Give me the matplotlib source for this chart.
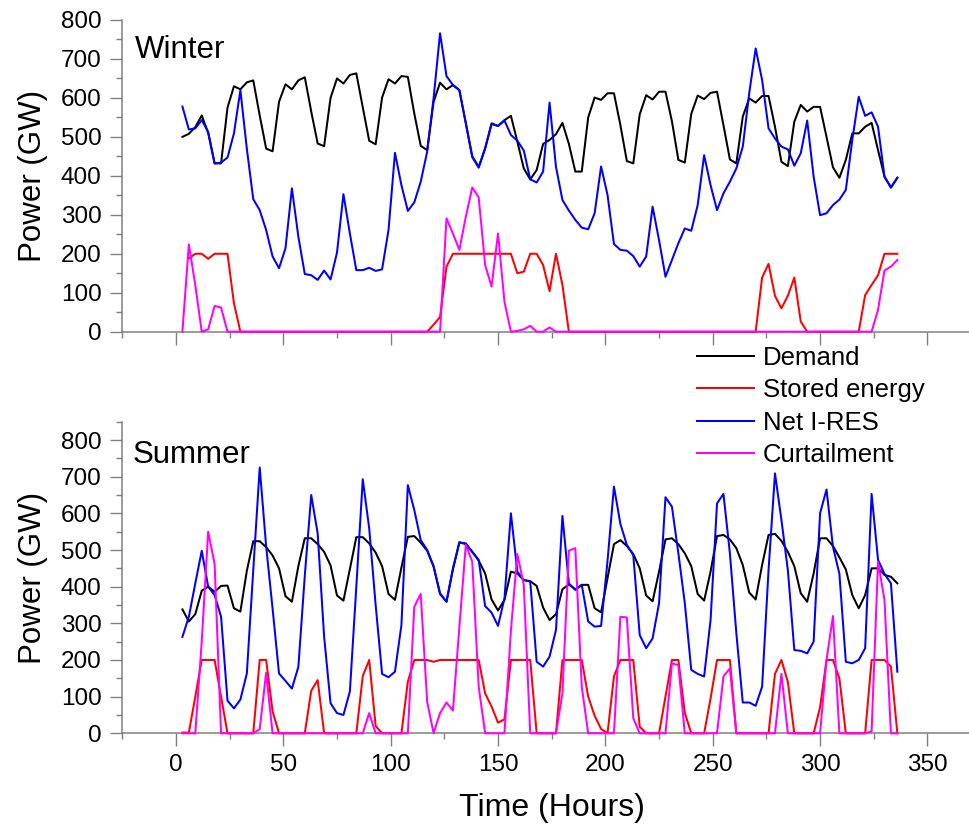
import numpy as np
import matplotlib
matplotlib.use("Agg")
import matplotlib.pyplot as plt
from matplotlib.ticker import MultipleLocator

plt.rcParams['font.family'] = ['Liberation Sans', 'DejaVu Sans']

hours = list(range(3, 337, 3))

labels = ["Demand", "Stored energy", "Net I-RES", "Curtailment"]
colors = ["#000000", "#FF0000", "#0000FF", "#FF00FF"]

winter_demand = [
    500, 508, 525, 555, 510, 432, 432, 575,
    630, 622, 640, 645, 555, 470, 463, 590,
    635, 622, 645, 653, 565, 483, 476, 600,
    650, 637, 659, 663, 576, 490, 481, 601,
    648, 637, 656, 654, 560, 477, 466, 590,
    639, 622, 633, 620, 535, 450, 423, 470,
    533, 528, 543, 554, 488, 419, 391, 415,
    482, 492, 507, 536, 482, 411, 411, 550,
    601, 595, 612, 612, 530, 438, 432, 558,
    607, 596, 616, 616, 540, 441, 434, 559,
    606, 597, 613, 616, 530, 442, 432, 552,
    599, 588, 605, 605, 526, 436, 425, 539,
    582, 565, 577, 577, 500, 422, 395, 441,
    509, 509, 526, 536, 466, 398, 370, 395]
winter_net = [
    578, 519, 522, 543, 513, 432, 434, 447,
    509, 620, 470, 340, 312, 261, 193, 163,
    214, 368, 244, 148, 145, 133, 157, 134,
    203, 353, 252, 158, 158, 164, 156, 160,
    261, 459, 376, 310, 332, 385, 462, 600,
    766, 656, 633, 620, 535, 448, 421, 471,
    535, 528, 542, 505, 490, 465, 391, 383,
    411, 588, 423, 338, 311, 287, 267, 263,
    304, 424, 351, 225, 210, 208, 194, 167,
    193, 321, 235, 141, 184, 227, 265, 259,
    325, 453, 376, 312, 355, 385, 419, 475,
    612, 727, 646, 522, 496, 475, 468, 426,
    458, 542, 398, 299, 304, 325, 339, 364,
    492, 603, 554, 563, 526, 398, 370, 395]
winter_stored = [
    np.nan, 188, 200, 200, 187, 200, 200, 200,
    73, 0, 0, 0, 0, 0, 0, 0,
    0, 0, 0, 0, 0, 0, 0, 0,
    0, 0, 0, 0, 0, 0, 0, 0,
    0, 0, 0, 0, 0, 0, 0, 18,
    38, 167, 200, 200, 200, 200, 200, 200,
    200, 200, 200, 200, 150, 154, 200, 200,
    171, 104, 200, 120, 0, 0, 0, 0,
    0, 0, 0, 0, 0, 0, 0, 0,
    0, 0, 0, 0, 0, 0, 0, 0,
    0, 0, 0, 0, 0, 0, 0, 0,
    0, 0, 139, 174, 92, 60, 92, 139,
    26, 0, 0, 0, 0, 0, 0, 0,
    0, 0, 94, 120, 145, 200, 200, 200]
winter_curt = [
    0, 224, 120, 0, 6, 66, 62, 0,
    0, 0, 0, 0, 0, 0, 0, 0,
    0, 0, 0, 0, 0, 0, 0, 0,
    0, 0, 0, 0, 0, 0, 0, 0,
    0, 0, 0, 0, 0, 0, 0, 0,
    0, 291, 252, 210, 295, 370, 345, 171,
    116, 252, 77, 0, 2, 6, 15, 0,
    0, 11, 0, 0, 0, 0, 0, 0,
    0, 0, 0, 0, 0, 0, 0, 0,
    0, 0, 0, 0, 0, 0, 0, 0,
    0, 0, 0, 0, 0, 0, 0, 0,
    0, 0, 0, 0, 0, 0, 0, 0,
    0, 0, 0, 0, 0, 0, 0, 0,
    0, 0, 0, 0, 56, 157, 167, 184]

summer_demand = [
    338, 305, 325, 389, 400, 386, 402, 403,
    341, 332, 443, 524, 524, 508, 485, 450,
    374, 359, 456, 532, 532, 516, 495, 458,
    376, 362, 448, 535, 535, 518, 493, 456,
    380, 364, 452, 536, 538, 520, 498, 455,
    380, 359, 447, 521, 516, 495, 471, 436,
    365, 335, 364, 441, 436, 418, 415, 402,
    343, 309, 325, 393, 406, 393, 405, 405,
    341, 330, 423, 516, 527, 511, 489, 450,
    376, 360, 441, 529, 532, 516, 491, 456,
    380, 362, 441, 538, 541, 529, 505, 459,
    384, 365, 459, 541, 544, 525, 495, 456,
    382, 359, 436, 532, 532, 511, 480, 447,
    377, 341, 377, 450, 450, 432, 427, 409]
summer_net = [
    263, 318, 409, 498, 400, 377, 318, 89,
    68, 92, 163, 445, 725, 510, 340, 163,
    143, 122, 181, 430, 650, 545, 264, 82,
    55, 50, 114, 400, 693, 559, 350, 162,
    153, 168, 295, 677, 609, 527, 500, 455,
    382, 359, 450, 521, 518, 495, 473, 347,
    329, 293, 368, 600, 441, 418, 414, 195,
    182, 209, 282, 593, 409, 391, 405, 305,
    291, 293, 470, 673, 571, 514, 486, 268,
    232, 259, 355, 644, 618, 491, 355, 173,
    162, 155, 309, 627, 653, 491, 273, 84,
    84, 75, 127, 445, 709, 582, 445, 227,
    225, 218, 250, 600, 665, 509, 435, 195,
    191, 200, 232, 653, 473, 435, 409, 168]
summer_stored = [
    2, 2, 100, 200, 200, 200, 100, 0,
    0, 0, 0, 0, 200, 200, 60, 0,
    0, 0, 0, 0, 116, 145, 0, 0,
    0, 0, 0, 0, 156, 200, 20, 0,
    0, 0, 0, 141, 200, 200, 200, 195,
    200, 200, 200, 200, 200, 200, 200, 109,
    73, 29, 38, 200, 200, 200, 200, 0,
    0, 0, 0, 200, 200, 200, 200, 100,
    48, 12, 0, 155, 200, 200, 200, 18,
    0, 0, 0, 100, 200, 200, 56, 0,
    0, 0, 95, 200, 200, 200, 0, 0,
    0, 0, 0, 0, 162, 200, 140, 0,
    0, 0, 0, 71, 200, 200, 150, 0,
    0, 0, 0, 200, 200, 200, 182, 0]
summer_curt = [
    0, 0, 0, 250, 550, 462, 0, 0,
    0, 0, 0, 0, 11, 165, 0, 0,
    0, 0, 0, 0, 0, 0, 0, 0,
    0, 0, 0, 0, 0, 55, 0, 0,
    0, 0, 0, 0, 345, 380, 86, 0,
    55, 84, 62, 290, 514, 468, 127, 0,
    0, 0, 0, 280, 489, 405, 0, 0,
    0, 0, 0, 109, 498, 505, 127, 0,
    0, 0, 0, 0, 318, 316, 41, 0,
    0, 0, 0, 0, 191, 186, 0, 0,
    0, 0, 0, 0, 155, 177, 0, 0,
    0, 0, 0, 0, 0, 162, 0, 0,
    0, 0, 0, 0, 200, 320, 0, 0,
    0, 0, 0, 5, 468, 364, 0, 0]

W, H = 970, 832
fig = plt.figure(figsize=(W / 100, H / 100), dpi=100)

left = 122.3 / W
width = 858.8 / W
ax1 = fig.add_axes([left, (H - 331.7) / H, width, 311.7 / H])
ax2 = fig.add_axes([left, (H - 733.3) / H, width, 311.6 / H])

spine_col = "#808080"
lw = 1.45

def style(ax, ytop):
    ax.set_xlim(-25, 375)
    ax.set_ylim(0, ytop)
    ax.xaxis.set_major_locator(MultipleLocator(50))
    ax.xaxis.set_minor_locator(MultipleLocator(25))
    ax.yaxis.set_major_locator(MultipleLocator(100))
    ax.yaxis.set_minor_locator(MultipleLocator(50))
    for s in ["top", "right"]:
        ax.spines[s].set_visible(False)
    for s in ["left", "bottom"]:
        ax.spines[s].set_color(spine_col)
        ax.spines[s].set_linewidth(1.1)
    ax.tick_params(which="major", direction="out", length=9, width=1.0,
                   color=spine_col, labelsize=17.5, labelcolor="black", pad=6)
    ax.tick_params(which="minor", direction="out", length=4.5, width=1.0,
                   color=spine_col)
    ax.set_ylabel("Power (GW)", fontsize=22.5, labelpad=9)

def draw(ax, series):
    handles = []
    for vals, c, lab in zip(series, colors, labels):
        h, = ax.plot(hours, np.array(vals, dtype=float), color=c, lw=lw,
                     label=lab, clip_on=False, zorder=3)
        handles.append(h)
    return handles

draw(ax1, [winter_demand, winter_stored, winter_net, winter_curt])
handles = draw(ax2, [summer_demand, summer_stored, summer_net, summer_curt])

style(ax1, 800)
style(ax2, 850)
ax1.tick_params(axis="x", labelbottom=False)
ax2.set_xlabel("Time (Hours)", fontsize=23, labelpad=12)

fig.text(135 / W, 1 - 58 / H, "Winter", fontsize=22.5, va="baseline", ha="left")
fig.text(133 / W, 1 - 463 / H, "Summer", fontsize=22.5, va="baseline", ha="left")

fig.legend(handles=handles, labels=labels, loc="upper left",
           bbox_to_anchor=(697 / W, 1 - 346 / H), bbox_transform=fig.transFigure,
           frameon=False, fontsize=18.5, handlelength=2.2, handletextpad=0.35,
           labelspacing=0.33, borderpad=0, borderaxespad=0)

fig.savefig("out.png", dpi=100)
